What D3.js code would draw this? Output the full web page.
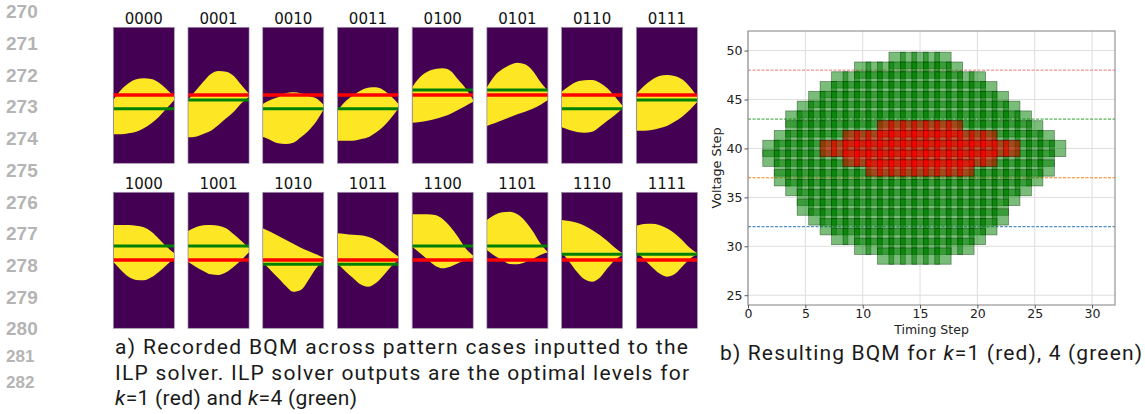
<!DOCTYPE html>
<html>
<head>
<meta charset="utf-8">
<script src="https://cdn.jsdelivr.net/npm/d3@7"></script>
<style>
  body { margin: 0; background: #fff; }
  svg { display: block; }
</style>
</head>
<body>
<svg id="fig" width="1145" height="414"></svg>
<script>
// ---- left panel: recorded eyes per pattern case ----
var patternNames = ["0000","0001","0010","0011","0100","0101","0110","0111",
                    "1000","1001","1010","1011","1100","1101","1110","1111"];
var eyeCols = [0, 4, 8, 12, 16, 20, 24, 28, 32];          // timing column of each sample
// rows counted from the top of each image (0..68)
var eyeTop = [
    [36.3,31.3,28,26,25.5,25.8,27.7,31,34.7],
    [36.3,31.7,27.2,23.3,21.8,22.2,24.3,28.8,33.3],
    [38.3,36.3,35,33,32.5,33,34.3,35.5,38.8],
    [41.7,37.2,34.2,31.7,30.2,30,31.3,34.3,38.3],
    [30,25,22.2,20.8,20.5,21.7,26,30.5,36.3],
    [30,24.3,21,18.8,17.7,18.5,21.7,27.2,31.7],
    [32.2,29.3,27.2,26.5,26.3,27.7,30.5,34.7,39.3],
    [33.3,29.3,26.3,24.3,23.8,24.3,26,29.7,34.7],
    [16.3,16.3,16.3,16.7,17.5,19.7,23.3,27.2,30.5],
    [19.3,17.5,16.5,16.3,16.7,18,21,24.3,27.7],
    [18,19.7,21.7,23.7,25.7,27.7,29.3,31,32.7],
    [20.5,20.8,21.2,21.5,22.2,23.8,26.3,29.3,32.2],
    [11,11,11,11.3,13.3,17.2,22.2,28,31.7],
    [13.8,11.3,10,9.7,11,14.3,19.3,25.5,30],
    [13.8,14.3,15.2,16.7,18.8,21.3,24.3,27.7,30.5],
    [16.7,15.8,15.7,16.3,18,20.5,23.8,27.7,30.5]
];
var eyeBottom = [
    [53.5,53.5,53,52.2,50.5,48,44.7,40.5,36.3],
    [55,54.7,53.3,51.7,48.8,45.5,42.2,38,34.7],
    [54.7,56.3,58,58.3,57.7,55,51.7,47.2,41],
    [56.7,56.7,56.7,56,55,52.7,49.7,45.5,40.5],
    [47.7,47.3,46.7,45.8,44.7,43.3,41.3,39.3,37.2],
    [49.3,48,46.5,45,43.5,42.2,40.7,38.8,36.3],
    [50,51.3,52.3,52.7,52.2,49.7,46.7,43.8,40.5],
    [51.7,51.7,51.3,50.5,49.3,47.2,44.7,41.3,37.2],
    [34.7,38.8,42.2,43.8,44,42.5,39.7,36.3,33],
    [34.7,37.2,39.3,41,41.3,40,37.2,33.8,30],
    [35,38.8,42.7,46.7,49.7,48.8,43.8,38,33.8],
    [35.5,39.3,42.7,46,47.2,45.5,41.7,37.2,33.8],
    [27.2,30.3,33.5,36.7,38,37.2,35.5,33.8,32.7],
    [28.8,31.7,33.8,35.8,36,35,33.3,31.3,30],
    [30,34.7,39.7,43.5,44.7,42.7,38,33.8,31.3],
    [30,33.3,37.2,40.5,42.2,41,37.2,33.3,31]
];
var levelK1 = [33.8,33.8,33.8,33.8,33.8,33.8,33.8,33.8,33.8,33.8,33.8,33.8,33.8,33.8,33.8,33.8];
var levelK4 = [40.7,36.3,40.7,40.7,31.3,31.3,40.7,36.3,26.8,26.8,36,36,26.8,26.8,31,31];

var lineNumbers = [270,271,272,273,274,275,276,277,278,279,280,281,282];
var lineNumberY = [18,49.5,81.5,113,145,176.5,208.5,240,271.5,304,335,362,388];

// ---- right panel: resulting BQM ----
var voltageSteps = [49,48,47,46,45,44,43,42,41,40,39,38,37,36,35,34,33,32,31,30,29];
var greenFirst   = [13,10, 8, 7, 6, 5, 4, 4, 3, 2, 2, 3, 3, 4, 5, 5, 6, 7, 8,10,12];
var greenLast    = [17,18,20,21,22,23,24,25,26,27,26,26,25,24,23,22,22,21,20,19,17];
var redVoltage   = [42,41,40,39,38];
var redFirst     = [12, 9, 7, 9,11];
var redLast      = [18,21,23,21,19];
var refLevels    = [48,43,37,32];
var refColors    = ["#ee7777","#2ca02c","#ff7f0e","#1f77b4"];
var xTicks = [0,5,10,15,20,25,30];
var yTicks = [25,30,35,40,45,50];

var svg = d3.select("#fig");

// line numbers down the margin
svg.append("g").selectAll("text")
    .data(lineNumbers)
    .enter().append("text")
    .attr("x", 6)
    .attr("y", function(d, i){ return lineNumberY[i]; })
    .attr("fill", "#b4b4b4")
    .attr("font-family", "Liberation Sans, Arial, sans-serif")
    .attr("font-weight", "bold")
    .attr("font-size", function(d){ return d > 280 ? 17 : 19; })
    .text(function(d){ return d; });

var imgW = 61, imgH = 136, imgLeft = 113.3, imgPitch = 74.72;
var rowTops = [27.3, 192.3];
var cx = d3.scaleLinear().domain([0, 32]).range([0, imgW]);
var cy = d3.scaleLinear().domain([0, 68]).range([0, imgH]);

var eyeArea = d3.area()
    .x(function(d){ return cx(d.c); })
    .y0(function(d){ return cy(d.b); })
    .y1(function(d){ return cy(d.t); })
    .curve(d3.curveMonotoneX);

var defs = svg.append("defs");
defs.append("clipPath").attr("id", "imgclip")
    .append("rect").attr("width", imgW).attr("height", imgH);

var panels = svg.append("g").selectAll("g")
    .data(patternNames)
    .enter().append("g")
    .attr("transform", function(d, i){
        return "translate(" + (imgLeft + (i % 8) * imgPitch) + "," + rowTops[Math.floor(i / 8)] + ")";
    });

panels.append("text")
    .attr("x", imgW / 2)
    .attr("y", -3.5)
    .attr("text-anchor", "middle")
    .attr("font-family", "DejaVu Sans, sans-serif")
    .attr("font-size", 15)
    .attr("fill", "#111")
    .text(function(d){ return d; });

var inner = panels.append("g").attr("clip-path", "url(#imgclip)");
inner.append("rect")
    .attr("width", imgW).attr("height", imgH)
    .attr("fill", "#440154");
inner.append("path")
    .attr("fill", "#fde725")
    .attr("d", function(d, i){
        return eyeArea(eyeCols.map(function(c, j){ return {c: c, t: eyeTop[i][j], b: eyeBottom[i][j]}; }));
    });
inner.append("line")
    .attr("x1", 0).attr("x2", imgW)
    .attr("y1", function(d, i){ return cy(levelK4[i]); })
    .attr("y2", function(d, i){ return cy(levelK4[i]); })
    .attr("stroke", "#008000").attr("stroke-width", 3);
inner.append("line")
    .attr("x1", 0).attr("x2", imgW)
    .attr("y1", function(d, i){ return cy(levelK1[i]); })
    .attr("y2", function(d, i){ return cy(levelK1[i]); })
    .attr("stroke", "#ff0000").attr("stroke-width", 3.5);
panels.append("rect")
    .attr("width", imgW).attr("height", imgH)
    .attr("fill", "none").attr("stroke", "#8c7f99").attr("stroke-width", 0.7);

// ---- scatter of BQM cells ----
var px = d3.scaleLinear().domain([0, 32]).range([748, 1115]);
var py = d3.scaleLinear().domain([24, 52]).range([305, 31]);

var grid = svg.append("g").attr("stroke", "#dedede").attr("stroke-width", 1);
grid.selectAll(".gx").data(xTicks).enter().append("line")
    .attr("x1", function(d){ return px(d); }).attr("x2", function(d){ return px(d); })
    .attr("y1", py(24)).attr("y2", py(52));
grid.selectAll(".gy").data(yTicks).enter().append("line")
    .attr("y1", function(d){ return py(d); }).attr("y2", function(d){ return py(d); })
    .attr("x1", px(0)).attr("x2", px(32));

svg.append("g").selectAll("line")
    .data(refLevels)
    .enter().append("line")
    .attr("x1", px(0)).attr("x2", px(32))
    .attr("y1", function(d){ return py(d); })
    .attr("y2", function(d){ return py(d); })
    .attr("stroke", function(d, i){ return refColors[i]; })
    .attr("stroke-width", 1)
    .attr("stroke-dasharray", "3,1.5");

var cells = function(volts, first, last){
    var out = [];
    volts.forEach(function(v, i){
        for (var t = first[i]; t <= last[i]; t++) out.push({t: t, v: v});
    });
    return out;
};
var S = 16.3;
var drawCells = function(data, fill, edge){
    svg.append("g").selectAll("rect")
        .data(data)
        .enter().append("rect")
        .attr("x", function(d){ return px(d.t) - S / 2; })
        .attr("y", function(d){ return py(d.v) - S / 2; })
        .attr("width", S).attr("height", S)
        .attr("fill", fill).attr("fill-opacity", 0.52)
        .attr("stroke", edge).attr("stroke-opacity", 0.5).attr("stroke-width", 0.8);
};
drawCells(cells(voltageSteps, greenFirst, greenLast), "#008000", "#003300");
drawCells(cells(redVoltage, redFirst, redLast), "#ff0000", "#550000");

// frame and axes
svg.append("rect")
    .attr("x", px(0)).attr("y", py(52))
    .attr("width", px(32) - px(0)).attr("height", py(24) - py(52))
    .attr("fill", "none").attr("stroke", "#808080").attr("stroke-width", 1);

var xAxis = svg.append("g")
    .attr("transform", "translate(0," + py(24) + ")")
    .call(d3.axisBottom(px).tickValues(xTicks).tickSize(3.5).tickPadding(1));
var yAxis = svg.append("g")
    .attr("transform", "translate(" + px(0) + ",0)")
    .call(d3.axisLeft(py).tickValues(yTicks).tickSize(3.5).tickPadding(2));
[xAxis, yAxis].forEach(function(a){
    a.select(".domain").remove();
    a.selectAll("line").attr("stroke", "#555");
    a.selectAll("text").attr("font-family", "DejaVu Sans, sans-serif")
        .attr("font-size", 12.5).attr("fill", "#222");
});

svg.append("text")
    .attr("x", (px(0) + px(32)) / 2).attr("y", 334)
    .attr("text-anchor", "middle")
    .attr("font-family", "DejaVu Sans, sans-serif").attr("font-size", 12.5).attr("fill", "#222")
    .text("Timing Step");
svg.append("text")
    .attr("transform", "translate(721," + ((py(24) + py(52)) / 2) + ") rotate(-90)")
    .attr("text-anchor", "middle")
    .attr("font-family", "DejaVu Sans, sans-serif").attr("font-size", 12.8).attr("fill", "#222")
    .text("Voltage Step");

// ---- captions ----
var capFont = "Roboto, Inter, sans-serif";
var caption = function(x, y, parts, width){
    var t = svg.append("text")
        .attr("x", x).attr("y", y)
        .attr("font-family", capFont).attr("font-size", 21).attr("fill", "#1a1a1a");
    if (width) t.attr("textLength", width).attr("lengthAdjust", "spacing");
    parts.forEach(function(p){
        t.append("tspan").attr("font-style", p[1] ? "italic" : "normal").text(p[0]);
    });
};
caption(115, 354, [["a) Recorded BQM across pattern cases inputted to the", 0]], 573);
caption(115, 380, [["ILP solver. ILP solver outputs are the optimal levels for", 0]], 574);
caption(115, 405, [["k", 1], ["=1 (red) and ", 0], ["k", 1], ["=4 (green)", 0]], 242);
caption(720, 360, [["b) Resulting BQM for ", 0], ["k", 1], ["=1 (red), 4 (green)", 0]], 422);
</script>
</body>
</html>
